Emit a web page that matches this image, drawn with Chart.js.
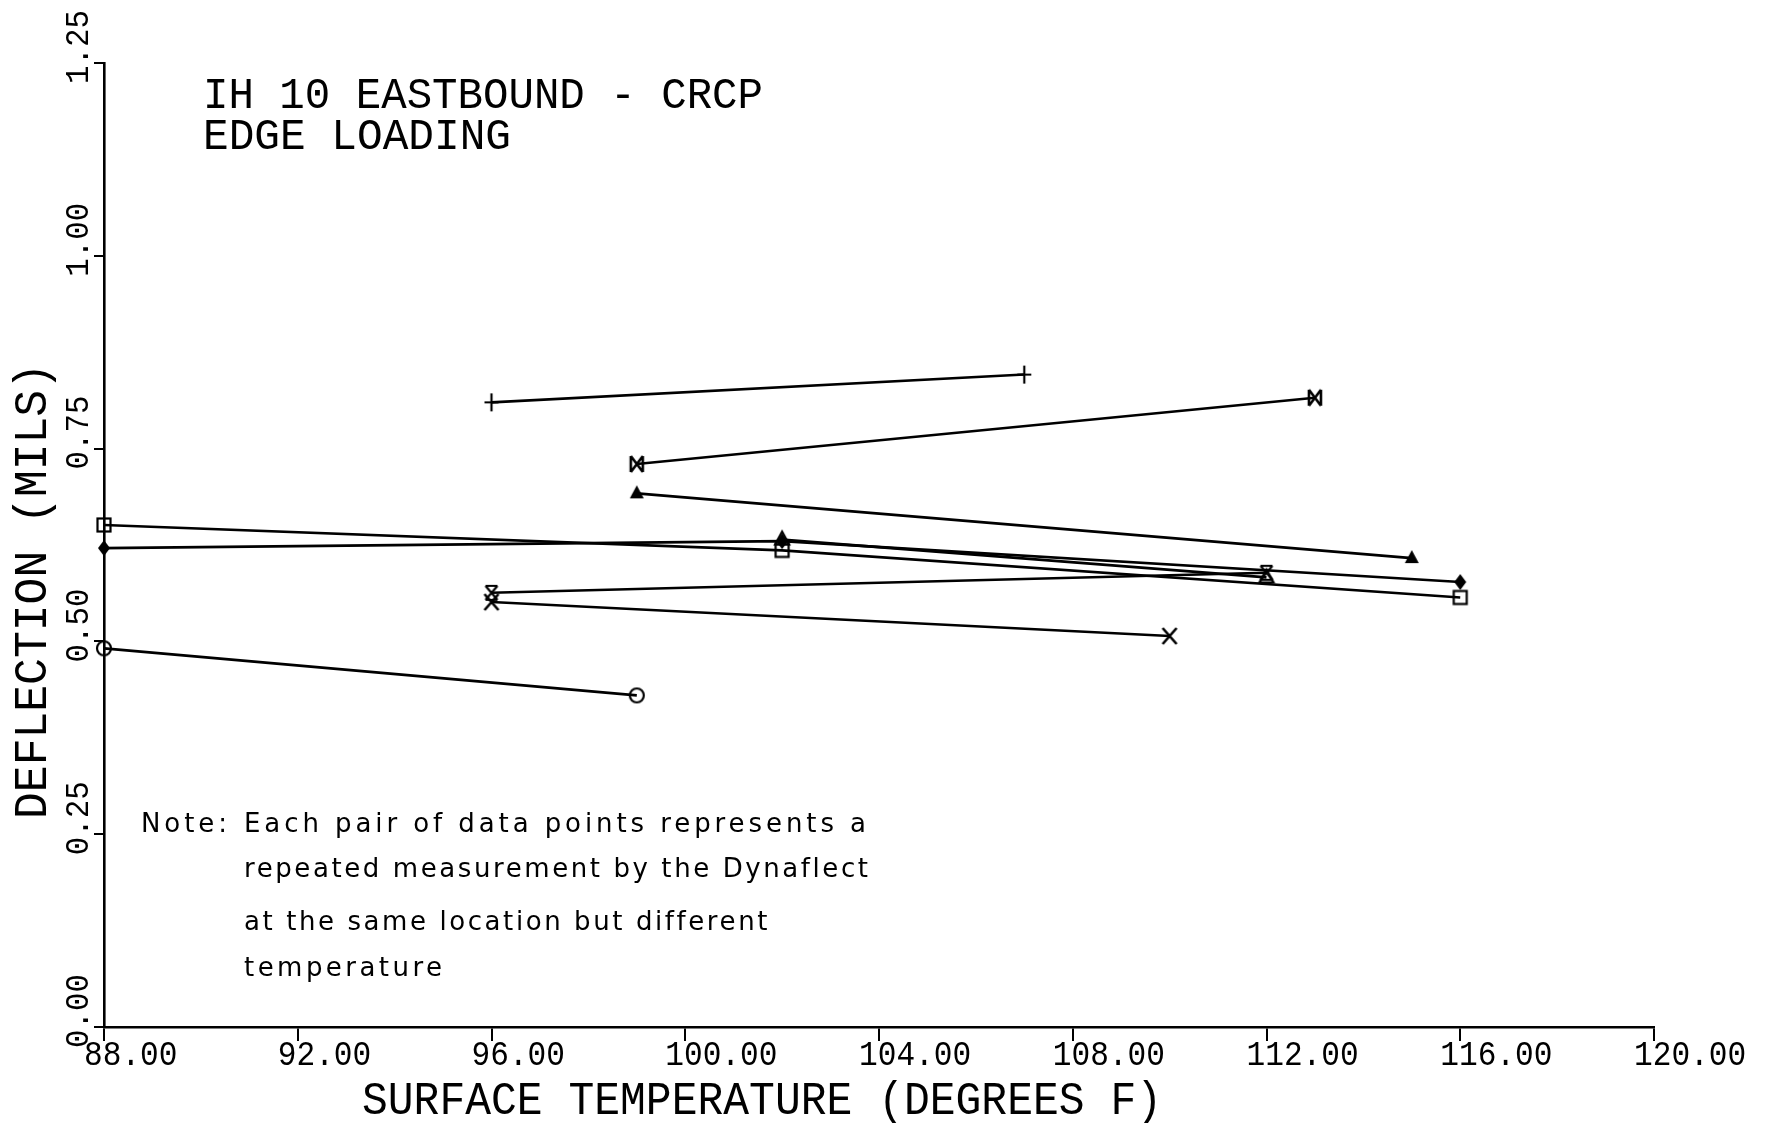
<!DOCTYPE html>
<html>
<head>
<meta charset="utf-8">
<script src="https://cdn.jsdelivr.net/npm/chart.js@4.4.1/dist/chart.umd.min.js"></script>
<style>
  html,body{margin:0;padding:0;background:#fff;}
  canvas{display:block;}
</style>
</head>
<body>
<canvas id="c" width="1765" height="1123"></canvas>
<script>
// ---------- data ----------
const xTickValues = [88, 92, 96, 100, 104, 108, 112, 116, 120];
const xTickLabels = ["88.00","92.00","96.00","100.00","104.00","108.00","112.00","116.00","120.00"];
const yTickValues = [0, 0.25, 0.5, 0.75, 1.0, 1.25];
const yTickLabels = ["0.00","0.25","0.50","0.75","1.00","1.25"];

const squareTemp   = [88, 102, 116];
const squareDefl   = [0.651, 0.618, 0.557];
const diamondTemp  = [88, 102, 116];
const diamondDefl  = [0.621, 0.630, 0.577];
const triangleTemp = [102, 112];
const triangleDefl = [0.632, 0.583];
const circleTemp   = [88, 99];
const circleDefl   = [0.491, 0.430];
const plusTemp     = [96, 107];
const plusDefl     = [0.810, 0.846];
const crossTemp    = [96, 110];
const crossDefl    = [0.551, 0.507];
const hourTemp     = [96, 112];
const hourDefl     = [0.563, 0.589];
const starTemp     = [99, 113];
const starDefl     = [0.730, 0.816];
const arrowTemp    = [99, 115];
const arrowDefl    = [0.692, 0.608];

const titleLines = ["IH 10 EASTBOUND - CRCP", "EDGE LOADING"];
const xTitle = "SURFACE TEMPERATURE (DEGREES F)";
const yTitle = "DEFLECTION (MILS)";
const noteLead = "Note:";
const noteLines = ["Each pair of data points represents a",
                   "repeated measurement by the Dynaflect",
                   "at the same location but different",
                   "temperature"];

// ---------- marker images ----------
function mk(draw, size) {
  size = size || 22;
  const c = document.createElement('canvas');
  c.width = c.height = size;
  const g = c.getContext('2d');
  g.strokeStyle = '#000'; g.fillStyle = '#000'; g.lineWidth = 2.2; g.lineCap = 'butt';
  draw(g, size / 2);
  return c;
}
const mSquare = mk((g,m)=>{ g.strokeRect(m-6.5, m-6.5, 13, 13); });
const mCircle = mk((g,m)=>{ g.beginPath(); g.arc(m, m, 7, 0, Math.PI*2); g.stroke(); });
const mTri = mk((g,m)=>{ g.beginPath(); g.moveTo(m, m-8); g.lineTo(m+7, m+5); g.lineTo(m-7, m+5); g.closePath(); g.stroke(); });
const mArrow = mk((g,m)=>{ g.beginPath(); g.moveTo(m, m-8); g.lineTo(m+7, m+5); g.lineTo(m-7, m+5); g.closePath(); g.fill(); });
const mDiamond = mk((g,m)=>{ g.beginPath(); g.moveTo(m, m-8); g.lineTo(m+6, m); g.lineTo(m, m+8); g.lineTo(m-6, m); g.closePath(); g.fill(); });
const mPlus = mk((g,m)=>{ g.beginPath(); g.moveTo(m-7, m); g.lineTo(m+7, m); g.moveTo(m, m-9); g.lineTo(m, m+9); g.stroke(); });
const mCross = mk((g,m)=>{ g.lineWidth=2.6; g.beginPath(); g.moveTo(m-7, m-8); g.lineTo(m+7, m+8); g.moveTo(m+7, m-8); g.lineTo(m-7, m+8); g.stroke(); });
const mHour = mk((g,m)=>{ g.beginPath(); g.moveTo(m-6, m-7); g.lineTo(m+6, m+7); g.moveTo(m+6, m-7); g.lineTo(m-6, m+7);
  g.moveTo(m-6, m-7); g.lineTo(m+6, m-7); g.moveTo(m-6, m+7); g.lineTo(m+6, m+7); g.stroke(); });
const mStar = mk((g,m)=>{ g.lineWidth=2.6; g.beginPath(); g.moveTo(m-6, m-8); g.lineTo(m+6, m+8); g.moveTo(m+6, m-8); g.lineTo(m-6, m+8);
  g.moveTo(m-6, m-8); g.lineTo(m-6, m+8); g.moveTo(m+6, m-8); g.lineTo(m+6, m+8); g.stroke(); });

function pts(xs, ys) { return xs.map((x, i) => ({x: x, y: ys[i]})); }
function ds(xs, ys, style) {
  return { data: pts(xs, ys), showLine: true, borderColor: '#000', borderWidth: 2.6,
           pointStyle: style, pointRadius: 9, pointHoverRadius: 9, tension: 0, clip: false };
}

// ---------- text helpers ----------
function fitText(ctx, text, x, y, width, cap, family, align, rot, ratio) {
  const size = cap / (ratio || 0.66);
  ctx.save();
  ctx.font = size + 'px ' + family;
  const w = ctx.measureText(text).width;
  ctx.translate(x, y);
  if (rot) ctx.rotate(rot);
  ctx.scale(width / w, 1);
  ctx.textBaseline = 'middle';
  ctx.textAlign = align || 'left';
  ctx.fillStyle = '#000';
  ctx.fillText(text, 0, 0);
  ctx.restore();
}
function spacedText(ctx, text, x, y, width, size, family) {
  ctx.save();
  ctx.font = size + 'px ' + family;
  ctx.fillStyle = '#000';
  ctx.textBaseline = 'middle';
  ctx.textAlign = 'left';
  const w = ctx.measureText(text).width;
  const extra = (width - w) / Math.max(1, text.length - 1);
  if ('letterSpacing' in ctx) {
    ctx.letterSpacing = extra + 'px';
    ctx.fillText(text, x, y);
  } else {
    ctx.translate(x, y); ctx.scale(width / w, 1); ctx.fillText(text, 0, 0);
  }
  ctx.restore();
}

const PLOT = '"Liberation Mono", "DejaVu Sans Mono", monospace';
const NOTE = '"DejaVu Sans", sans-serif';

const textPlugin = {
  id: 'texts',
  afterDraw(chart) {
    const ctx = chart.ctx;
    const xs = chart.scales.x, ys = chart.scales.y;
    xTickValues.forEach((v, i) => {
      const lab = xTickLabels[i];
      fitText(ctx, lab, xs.getPixelForValue(v) - 20, 1056, 18.7 * lab.length, 23, PLOT, 'left');
    });
    yTickValues.forEach((v, i) => {
      const lab = yTickLabels[i];
      fitText(ctx, lab, 79.5, ys.getPixelForValue(v) + 21, 18.5 * lab.length, 22, PLOT, 'left', -Math.PI / 2);
    });
    fitText(ctx, xTitle, 762, 1102, 800, 30, PLOT, 'center');
    fitText(ctx, yTitle, 34, 591, 456, 30, PLOT, 'center', -Math.PI / 2);
    fitText(ctx, titleLines[0], 203, 96, 560, 29, PLOT, 'left');
    fitText(ctx, titleLines[1], 203, 137, 308, 29, PLOT, 'left');
    spacedText(ctx, noteLead, 141, 825, 86, 26, NOTE);
    const noteY = [825, 870, 923, 969];
    const noteW = [622, 624, 523, 198];
    noteLines.forEach((t, i) => spacedText(ctx, t, 244, noteY[i], noteW[i], 26, NOTE));
  }
};

new Chart(document.getElementById('c'), {
  type: 'scatter',
  data: {
    datasets: [
      ds(squareTemp, squareDefl, mSquare),
      ds(diamondTemp, diamondDefl, mDiamond),
      ds(triangleTemp, triangleDefl, mTri),
      ds(circleTemp, circleDefl, mCircle),
      ds(plusTemp, plusDefl, mPlus),
      ds(crossTemp, crossDefl, mCross),
      ds(hourTemp, hourDefl, mHour),
      ds(starTemp, starDefl, mStar),
      ds(arrowTemp, arrowDefl, mArrow)
    ]
  },
  options: {
    responsive: false,
    devicePixelRatio: 1,
    animation: false,
    layout: { padding: { top: 63, right: 111, left: 0, bottom: 0 } },
    plugins: { legend: { display: false }, tooltip: { enabled: false } },
    scales: {
      x: {
        type: 'linear', min: 88, max: 120,
        afterBuildTicks: (s) => { s.ticks = xTickValues.map(v => ({value: v})); },
        ticks: { display: false },
        grid: { drawOnChartArea: false, drawTicks: true, tickLength: 14, color: '#000', lineWidth: 2 },
        border: { display: true, color: '#000', width: 2.6 },
        afterFit: (s) => { s.height = 96; }
      },
      y: {
        type: 'linear', min: 0, max: 1.25,
        afterBuildTicks: (s) => { s.ticks = yTickValues.map(v => ({value: v})); },
        ticks: { display: false },
        grid: { drawOnChartArea: false, drawTicks: true, tickLength: 10, color: '#000', lineWidth: 2 },
        border: { display: true, color: '#000', width: 2.6 },
        afterFit: (s) => { s.width = 104; }
      }
    }
  },
  plugins: [textPlugin]
});
</script>
</body>
</html>
